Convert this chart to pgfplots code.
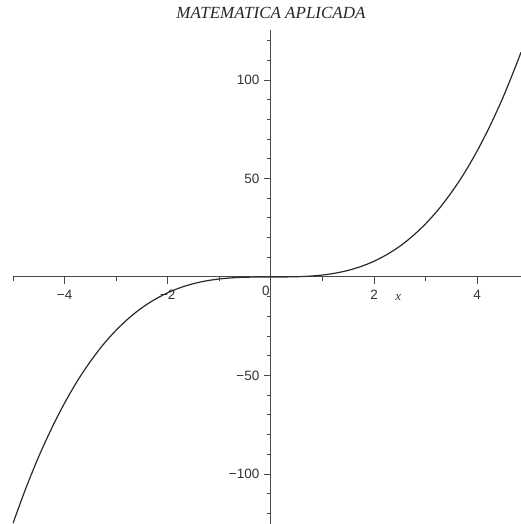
\documentclass[border=0pt]{standalone}
\usepackage{fontspec}
\setmainfont{Liberation Serif}
\setsansfont{Liberation Sans}
\usepackage{pgfplots}
\pgfplotsset{compat=1.18}
\definecolor{axisgray}{HTML}{4A4A4A}
\definecolor{labelgray}{HTML}{333333}
\definecolor{curvegray}{HTML}{2A2A2A}
\begin{document}
\begin{tikzpicture}[x=1pt,y=1pt]
\begin{axis}[
  at={(13pt,0pt)}, anchor=south west,
  scale only axis, width=508pt, height=494pt,
  xmin=-5, xmax=4.85, ymin=-125.4, ymax=125.4,
  axis lines=middle,
  axis line style={axisgray, line width=1pt, -},
  every tick/.style={axisgray, line width=0.9pt},
  xtick align=outside, ytick align=outside,
  major tick length=7pt, minor tick length=4pt,
  xtick={-4,-2,2,4}, xticklabels={−4,−2,2,4},
  minor xtick={-5,-3,-1,1,3},
  ytick={-100,-50,50,100}, yticklabels={−100,−50,50,100},
  minor ytick={-120,-110,-90,-80,-70,-60,-40,-30,-20,-10,10,20,30,40,60,70,80,90,110,120},
  tick label style={font=\sffamily\fontsize{13.5}{13.5}\selectfont, text=labelgray},
  xticklabel style={yshift=-3pt},
  yticklabel style={xshift=-1pt},
]
\addplot[curvegray, line width=1.2pt, smooth] table {
x y
-5 -125
-4.75 -107.2
-4.5 -91.1
-4.25 -76.8
-4 -64
-3.75 -52.7
-3.5 -42.9
-3.25 -34.3
-3 -27
-2.75 -20.8
-2.5 -15.6
-2.25 -11.4
-2 -8
-1.75 -5.36
-1.5 -3.38
-1.25 -1.95
-1 -1
-0.75 -0.42
-0.5 -0.13
-0.25 -0.02
0 0
0.25 0.02
0.5 0.13
0.75 0.42
1 1
1.25 1.95
1.5 3.38
1.75 5.36
2 8
2.25 11.4
2.5 15.6
2.75 20.8
3 27
3.25 34.3
3.5 42.9
3.75 52.7
4 64
4.25 76.8
4.5 91.1
4.75 107.2
4.85 114.1
};
\node[anchor=north east, font=\sffamily\fontsize{13.5}{13.5}\selectfont, text=labelgray, inner sep=1pt] at (axis cs:0,-4) {0};
\node[font=\itshape\fontsize{13}{13}\selectfont, text=labelgray] at (axis cs:2.47,-10.5) {x};
\end{axis}
\node[font=\itshape\fontsize{17}{17}\selectfont, text=black!85] at (271,511) {MATEMATICA APLICADA};
\pgfresetboundingbox
\path (0,0) rectangle (521,524);
\end{tikzpicture}
\end{document}
